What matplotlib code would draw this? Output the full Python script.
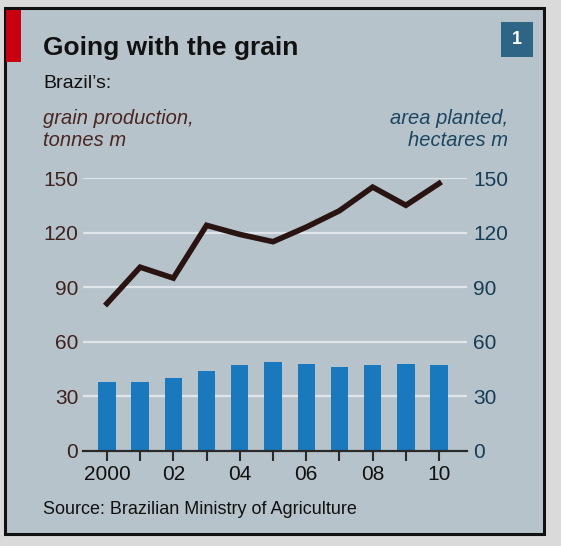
import matplotlib as mpl
mpl.use('Agg')
import matplotlib.pyplot as plt
from matplotlib.patches import Rectangle
import numpy as np

plt.rcParams['font.family'] = ['Liberation Sans', 'DejaVu Sans']

years = [2000, 2001, 2002, 2003, 2004, 2005, 2006, 2007, 2008, 2009, 2010]
production = [81, 101, 95, 124, 119, 115, 123, 132, 145, 135, 147]   # tonnes m
area = [38, 38, 40, 44, 47, 49, 48, 46, 47, 48, 47]                  # hectares m
yticks = [0, 30, 60, 90, 120, 150]
xticklabels = {2000: '2000', 2002: '02', 2004: '04', 2006: '06', 2008: '08', 2010: '10'}

W, H = 561, 546
fig = plt.figure(figsize=(W / 100, H / 100), dpi=100, facecolor='#dadada')

# panel with border
panel_col = '#b7c3cb'
fig.patches.append(Rectangle((5 / W, 1 - 534 / H), 539 / W, 526 / H, transform=fig.transFigure,
                             facecolor=panel_col, edgecolor='#111111', linewidth=2.2, zorder=-5))
fig.patches.append(Rectangle((6 / W, 1 - 62 / H), 15 / W, 52 / H, transform=fig.transFigure,
                             facecolor='#c8000f', edgecolor='none', zorder=-4))
fig.patches.append(Rectangle((501 / W, 1 - 57 / H), 32 / W, 35 / H, transform=fig.transFigure,
                             facecolor='#2e6585', edgecolor='none', zorder=-4))
fig.text(517 / W, 1 - 40 / H, '1', color='white', fontsize=13, fontweight='bold',
         ha='center', va='center')

fig.text(43 / W, 1 - 48 / H, 'Going with the grain', fontsize=19, fontweight='bold',
         color='#111111', va='center', ha='left')
fig.text(43 / W, 1 - 84 / H, 'Brazil\u2019s:', fontsize=14, color='#111111', va='center')
fig.text(43 / W, 1 - 119 / H, 'grain production,', fontsize=14.5, style='italic',
         color='#4a2622', va='center')
fig.text(43 / W, 1 - 141 / H, 'tonnes m', fontsize=14.5, style='italic',
         color='#4a2622', va='center')
fig.text(508 / W, 1 - 119 / H, 'area planted,', fontsize=14.5, style='italic',
         color='#1b4560', va='center', ha='right')
fig.text(508 / W, 1 - 141 / H, 'hectares m', fontsize=14.5, style='italic',
         color='#1b4560', va='center', ha='right')
fig.text(43 / W, 1 - 510 / H, 'Source: Brazilian Ministry of Agriculture', fontsize=13,
         color='#111111', va='center')

# plot area
ax = fig.add_axes([83 / W, 1 - 451 / H, 384 / W, 273 / H])
ax.set_facecolor('none')
ax.set_xlim(1999.28, 2010.84)
ax.set_ylim(0, 150)

for v in yticks[1:]:
    ax.axhline(v, color='#dfe5e9', linewidth=1.6, zorder=1)

ax.bar(years, area, width=0.52, color='#1a78bd', zorder=2)
ax.plot(years, production, color='#2a1411', linewidth=4, zorder=3,
        solid_joinstyle='miter', clip_on=False)

for s in ['top', 'right', 'left']:
    ax.spines[s].set_visible(False)
ax.spines['bottom'].set_color('#2a2a2a')
ax.spines['bottom'].set_linewidth(1.6)
ax.spines['bottom'].set_zorder(4)

ax.set_yticks(yticks)
ax.tick_params(axis='y', length=0, labelsize=15, labelcolor='#3e221e', pad=3.5)
ax.set_xticks(years)
ax.set_xticklabels([xticklabels.get(y, '') for y in years])
ax.tick_params(axis='x', length=7, width=1.5, color='#2a2a2a', labelsize=15,
               labelcolor='#111111', pad=3)

ax2 = ax.twinx()
ax2.set_ylim(0, 150)
ax2.set_yticks(yticks)
ax2.tick_params(axis='y', length=0, labelsize=15, labelcolor='#163d55', pad=4.5)
for s in ax2.spines.values():
    s.set_visible(False)

fig.savefig('out.png', dpi=100, facecolor=fig.get_facecolor())
